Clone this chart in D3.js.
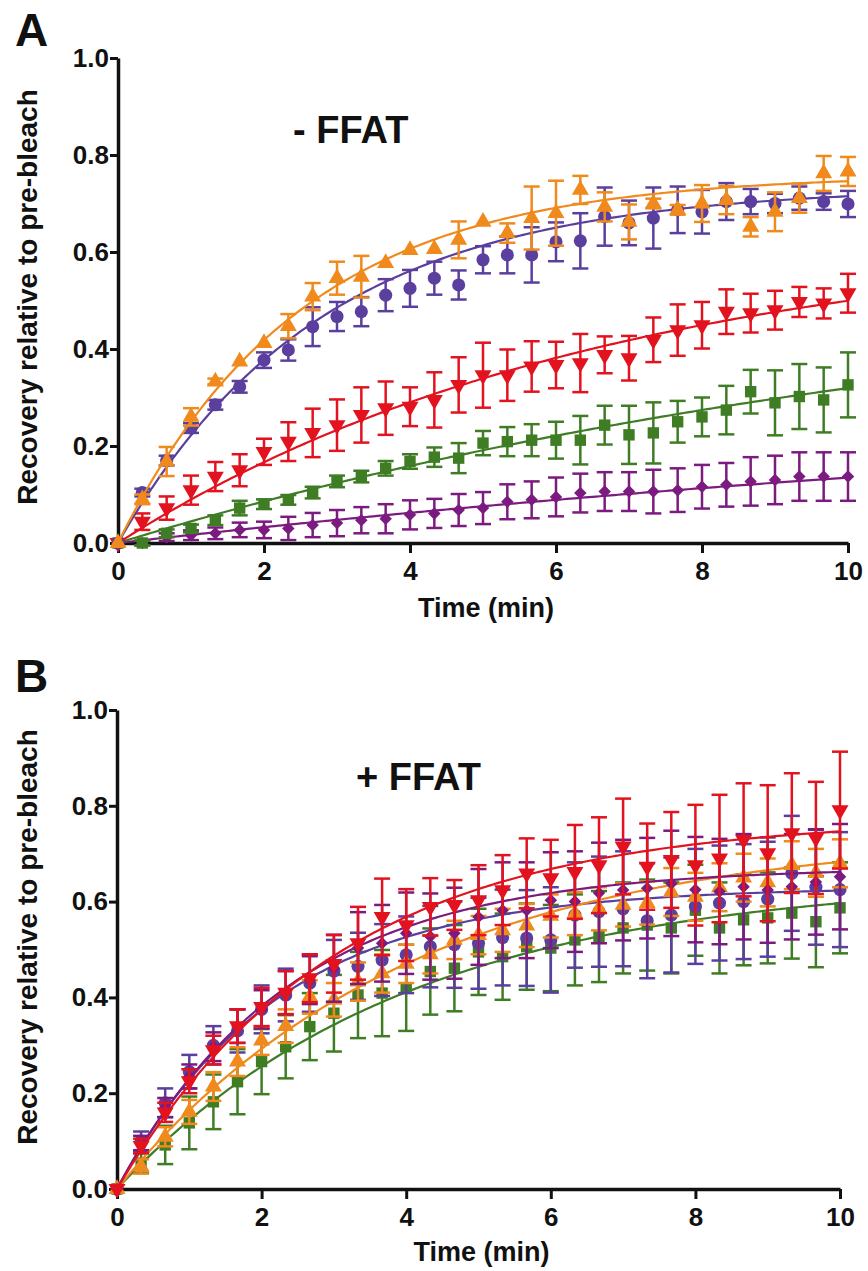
<!DOCTYPE html>
<html>
<head>
<meta charset="utf-8">
<script src="https://cdn.jsdelivr.net/npm/d3@7"></script>
<style>
  body { margin: 0; background: #fff; }
  svg { display: block; font-family: "Liberation Sans", Arial, sans-serif; font-weight: bold; }
  .axis path, .axis line { stroke: #111; }
  .axis text { fill: #111; font-size: 26px; font-weight: bold; }
</style>
</head>
<body>
<script>
// FRAP recovery, sampled every 20 s over 10 min
const timeSec = [0, 20, 40, 60, 80, 100, 120, 140, 160, 180, 200, 220, 240, 260, 280, 300,
  320, 340, 360, 380, 400, 420, 440, 460, 480, 500, 520, 540, 560, 580, 600];

const xTicks = [0, 2, 4, 6, 8, 10];
const yTicks = [0, 0.2, 0.4, 0.6, 0.8, 1.0];

const colors = {
  orange: "#f08a1c",
  indigo: "#5a3f9e",
  red: "#e2131f",
  green: "#3f7d25",
  purple: "#7c1b7f"
};

// ---- panel A (- FFAT) ----
const orangeA = [0, 0.09, 0.168, 0.26, 0.333, 0.374, 0.412, 0.447, 0.508, 0.546, 0.549, 0.577, 0.604, 0.606, 0.625, 0.662,
  0.639, 0.67, 0.68, 0.728, 0.693, 0.662, 0.70, 0.687, 0.70, 0.707, 0.652, 0.683, 0.711, 0.762, 0.766];
const orangeAErr = [0, 0.01, 0.03, 0.018, 0.006, 0, 0, 0.025, 0.028, 0.034, 0.043, 0, 0, 0, 0.038, 0,
  0.02, 0.065, 0.067, 0.029, 0.03, 0.036, 0.01, 0.01, 0.038, 0.029, 0.02, 0.04, 0.03, 0.036, 0.03];

const indigoA = [0, 0.104, 0.17, 0.237, 0.285, 0.322, 0.377, 0.398, 0.446, 0.467, 0.477, 0.511, 0.525, 0.546, 0.532, 0.584,
  0.594, 0.594, 0.621, 0.623, 0.673, 0.66, 0.67, 0.687, 0.683, 0.704, 0.704, 0.70, 0.711, 0.704, 0.699];
const indigoAErr = [0, 0.008, 0.01, 0.01, 0.01, 0.012, 0.016, 0.022, 0.04, 0.03, 0.03, 0.033, 0.038, 0.034, 0.03, 0.028,
  0.038, 0.057, 0.04, 0.057, 0.06, 0.046, 0.063, 0.048, 0.045, 0.038, 0.026, 0.02, 0.024, 0.017, 0.027];

const redA = [0, 0.044, 0.072, 0.109, 0.137, 0.15, 0.188, 0.209, 0.227, 0.243, 0.264, 0.278, 0.281, 0.295, 0.326, 0.346,
  0.346, 0.364, 0.367, 0.371, 0.388, 0.381, 0.419, 0.439, 0.449, 0.477, 0.474, 0.48, 0.497, 0.494, 0.515];
const redAErr = [0, 0.017, 0.024, 0.03, 0.03, 0.033, 0.027, 0.04, 0.05, 0.053, 0.057, 0.055, 0.04, 0.057, 0.057, 0.067,
  0.053, 0.052, 0.048, 0.06, 0.038, 0.046, 0.046, 0.053, 0.048, 0.046, 0.04, 0.04, 0.031, 0.031, 0.04];

const greenA = [0, 0.0, 0.02, 0.03, 0.047, 0.072, 0.08, 0.089, 0.104, 0.127, 0.137, 0.154, 0.168, 0.177, 0.175, 0.206,
  0.209, 0.212, 0.212, 0.212, 0.243, 0.223, 0.227, 0.25, 0.26, 0.274, 0.312, 0.289, 0.302, 0.295, 0.326];
const greenAErr = [0, 0.005, 0.008, 0.008, 0.01, 0.015, 0.01, 0.01, 0.012, 0.012, 0.012, 0.015, 0.015, 0.02, 0.031, 0.025,
  0.03, 0.033, 0.038, 0.05, 0.04, 0.06, 0.063, 0.043, 0.04, 0.05, 0.045, 0.067, 0.067, 0.067, 0.067];

const purpleA = [0, 0.0, 0.012, 0.016, 0.02, 0.027, 0.027, 0.03, 0.037, 0.041, 0.047, 0.05, 0.058, 0.061, 0.068, 0.072,
  0.085, 0.089, 0.095, 0.103, 0.106, 0.106, 0.106, 0.109, 0.116, 0.12, 0.127, 0.13, 0.137, 0.137, 0.137];
const purpleAErr = [0, 0.005, 0.008, 0.01, 0.012, 0.015, 0.017, 0.024, 0.025, 0.027, 0.027, 0.03, 0.03, 0.03, 0.033, 0.033,
  0.036, 0.038, 0.04, 0.04, 0.04, 0.04, 0.045, 0.045, 0.045, 0.045, 0.05, 0.05, 0.05, 0.05, 0.05];

// one-phase association fits: [plateau, k (1/min)]
const fitA = { orange: [0.76, 0.4], indigo: [0.735, 0.36], red: [0.643, 0.15], green: [0.58, 0.08], purple: [0.343, 0.05] };

// ---- panel B (+ FFAT) ----
const indigoB = [0, 0.1, 0.18, 0.245, 0.3, 0.33, 0.375, 0.405, 0.43, 0.455, 0.465, 0.478, 0.489, 0.506, 0.51, 0.513,
  0.525, 0.524, 0.52, 0.572, 0.579, 0.585, 0.56, 0.572, 0.59, 0.597, 0.6, 0.605, 0.659, 0.63, 0.625];
const indigoBErr = [0, 0.02, 0.03, 0.035, 0.04, 0.045, 0.05, 0.055, 0.06, 0.065, 0.07, 0.075, 0.08, 0.085, 0.09, 0.095,
  0.1, 0.1, 0.11, 0.11, 0.115, 0.12, 0.12, 0.12, 0.12, 0.12, 0.12, 0.12, 0.12, 0.12, 0.12];

const greenB = [0, 0.054, 0.092, 0.138, 0.182, 0.224, 0.266, 0.297, 0.339, 0.367, 0.405, 0.409, 0.42, 0.454, 0.461, 0.495,
  0.485, 0.506, 0.503, 0.52, 0.527, 0.545, 0.551, 0.545, 0.582, 0.545, 0.562, 0.566, 0.576, 0.558, 0.587];
const greenBErr = [0, 0.02, 0.04, 0.055, 0.057, 0.068, 0.068, 0.066, 0.07, 0.08, 0.09, 0.09, 0.09, 0.09, 0.09, 0.09,
  0.09, 0.09, 0.09, 0.095, 0.095, 0.095, 0.095, 0.095, 0.095, 0.095, 0.095, 0.095, 0.095, 0.095, 0.095];

const orangeB = [0, 0.047, 0.109, 0.161, 0.214, 0.266, 0.31, 0.34, 0.401, 0.395, 0.433, 0.45, 0.47, 0.49, 0.52, 0.53,
  0.54, 0.55, 0.57, 0.575, 0.585, 0.593, 0.597, 0.62, 0.61, 0.63, 0.65, 0.64, 0.676, 0.66, 0.68];
const orangeBErr = [0, 0.015, 0.02, 0.025, 0.03, 0.03, 0.03, 0.035, 0.035, 0.035, 0.04, 0.04, 0.04, 0.04, 0.04, 0.04,
  0.045, 0.045, 0.045, 0.045, 0.045, 0.045, 0.045, 0.05, 0.05, 0.05, 0.05, 0.05, 0.05, 0.05, 0.05];

const purpleB = [0, 0.096, 0.17, 0.235, 0.297, 0.34, 0.375, 0.41, 0.436, 0.461, 0.503, 0.513, 0.534, 0.527, 0.534, 0.568,
  0.582, 0.582, 0.603, 0.6, 0.618, 0.624, 0.628, 0.638, 0.625, 0.621, 0.631, 0.624, 0.631, 0.641, 0.652];
const purpleBErr = [0, 0.015, 0.02, 0.025, 0.03, 0.035, 0.04, 0.045, 0.05, 0.07, 0.075, 0.08, 0.085, 0.09, 0.095, 0.1,
  0.1, 0.1, 0.1, 0.105, 0.105, 0.105, 0.105, 0.11, 0.11, 0.11, 0.11, 0.11, 0.11, 0.11, 0.11];

const redB = [0, 0.09, 0.16, 0.225, 0.29, 0.34, 0.38, 0.41, 0.44, 0.47, 0.513, 0.568, 0.551, 0.589, 0.593, 0.603,
  0.624, 0.659, 0.649, 0.662, 0.676, 0.715, 0.673, 0.687, 0.676, 0.69, 0.729, 0.701, 0.743, 0.733, 0.791];
const redBErr = [0, 0.015, 0.02, 0.025, 0.03, 0.035, 0.04, 0.045, 0.05, 0.06, 0.076, 0.08, 0.075, 0.06, 0.052, 0.073,
  0.073, 0.073, 0.08, 0.098, 0.1, 0.1, 0.09, 0.1, 0.126, 0.133, 0.118, 0.142, 0.125, 0.117, 0.122];

const fitB = { red: [0.775, 0.33], purple: [0.672, 0.42], indigo: [0.63, 0.45], orange: [0.744, 0.25], green: [0.65, 0.25] };

// series in draw order (last on top)
const seriesA = [
  { key: "purple", shape: "diamond", values: purpleA, errors: purpleAErr },
  { key: "green", shape: "square", values: greenA, errors: greenAErr },
  { key: "red", shape: "down", values: redA, errors: redAErr },
  { key: "indigo", shape: "circle", values: indigoA, errors: indigoAErr },
  { key: "orange", shape: "up", values: orangeA, errors: orangeAErr }
].map(s => ({ ...s, fit: fitA[s.key] }));

const seriesB = [
  { key: "green", shape: "square", values: greenB, errors: greenBErr },
  { key: "indigo", shape: "circle", values: indigoB, errors: indigoBErr },
  { key: "orange", shape: "up", values: orangeB, errors: orangeBErr },
  { key: "purple", shape: "diamond", values: purpleB, errors: purpleBErr },
  { key: "red", shape: "down", values: redB, errors: redBErr }
].map(s => ({ ...s, fit: fitB[s.key] }));

const panels = [
  { letter: "A", label: "- FFAT", series: seriesA, left: 118, right: 848, top: 58, bottom: 543,
    letterY: 46, labelX: 293, labelY: 143, titleY: 617, yTitleY: 297 },
  { letter: "B", label: "+ FFAT", series: seriesB, left: 117, right: 840, top: 710, bottom: 1189,
    letterY: 692, labelX: 356, labelY: 790, titleY: 1261, yTitleY: 937 }
];

const svg = d3.select("body").append("svg").attr("width", 868).attr("height", 1271);

const symbolPath = {
  circle: d3.symbol(d3.symbolCircle, 135)(),
  up: d3.symbol(d3.symbolTriangle, 125)(),
  down: d3.symbol(d3.symbolTriangle, 125)(),
  square: d3.symbol(d3.symbolSquare, 130)(),
  diamond: d3.symbol(d3.symbolSquare, 78)()
};
const symbolRotate = { circle: 0, up: 0, down: 180, square: 0, diamond: 45 };

function drawPanel(p) {
  const g = svg.append("g");
  const x = d3.scaleLinear().domain([0, 10]).range([p.left, p.right]);
  const y = d3.scaleLinear().domain([0, 1]).range([p.bottom, p.top]);

  g.append("text").text(p.letter)
    .attr("x", 15).attr("y", p.letterY)
    .style("font-size", "46px").style("font-weight", 900).attr("fill", "#111");

  g.append("text").text(p.label)
    .attr("x", p.labelX).attr("y", p.labelY)
    .style("font-size", "38px").attr("fill", "#111");

  const yAxis = g.append("g").attr("class", "axis")
    .attr("transform", `translate(${p.left},0)`)
    .call(d3.axisLeft(y).tickValues(yTicks).tickFormat(d3.format(".1f")).tickSize(8).tickSizeOuter(0).tickPadding(1));
  const xAxis = g.append("g").attr("class", "axis")
    .attr("transform", `translate(0,${p.bottom})`)
    .call(d3.axisBottom(x).tickValues(xTicks).tickFormat(d3.format("d")).tickSize(10).tickSizeOuter(0).tickPadding(9));
  [xAxis, yAxis].forEach(a => {
    a.select(".domain").attr("stroke-width", 3.5);
    a.selectAll(".tick line").attr("stroke-width", 3);
    a.attr("font-family", null).attr("font-size", null);
  });

  g.append("text").text("Time (min)")
    .attr("x", (p.left + p.right) / 2 + 3).attr("y", p.titleY)
    .attr("text-anchor", "middle").style("font-size", "27px").attr("fill", "#111");

  g.append("text").text("Recovery relative to pre-bleach")
    .attr("transform", `translate(37,${p.yTitleY}) rotate(-90)`)
    .attr("text-anchor", "middle").style("font-size", "28px").attr("fill", "#111");

  const fitT = d3.range(0, 10.001, 0.05);
  const line = d3.line().x(d => x(d[0])).y(d => y(d[1]));

  p.series.forEach(s => {
    const color = colors[s.key];
    const sg = g.append("g");
    const pts = timeSec.map((t, i) => ({ t: t / 60, v: s.values[i], e: s.errors[i] }));
    const [plateau, k] = s.fit;

    sg.append("path")
      .datum(fitT.map(t => [t, plateau * (1 - Math.exp(-k * t))]))
      .attr("d", line).attr("fill", "none").attr("stroke", color).attr("stroke-width", 2.2);

    const bars = sg.selectAll("g.err").data(pts.filter(d => d.e > 0)).join("g")
      .attr("stroke", color).attr("stroke-width", 2.5);
    bars.append("line")
      .attr("x1", d => x(d.t)).attr("x2", d => x(d.t))
      .attr("y1", d => y(d.v - d.e)).attr("y2", d => y(d.v + d.e));
    [-1, 1].forEach(sign => {
      bars.append("line")
        .attr("x1", d => x(d.t) - 8).attr("x2", d => x(d.t) + 8)
        .attr("y1", d => y(d.v + sign * d.e)).attr("y2", d => y(d.v + sign * d.e));
    });

    sg.selectAll("path.mark").data(pts).join("path")
      .attr("class", "mark")
      .attr("d", symbolPath[s.shape])
      .attr("transform", d => `translate(${x(d.t)},${y(d.v)}) rotate(${symbolRotate[s.shape]})`)
      .attr("fill", color);
  });
}

panels.forEach(drawPanel);
</script>
</body>
</html>
